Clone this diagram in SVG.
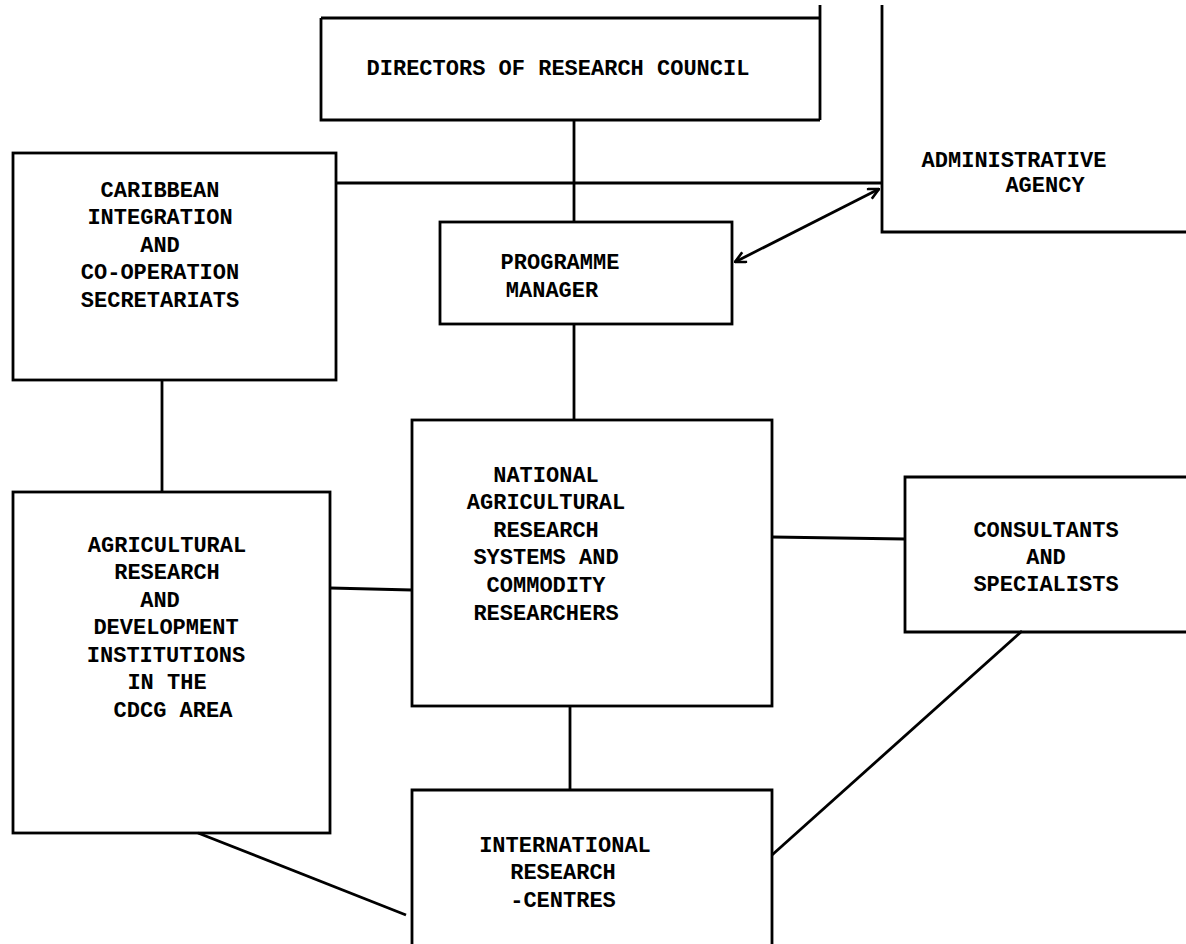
<svg xmlns="http://www.w3.org/2000/svg" width="1186" height="944" viewBox="0 0 1186 944">
<defs>
<style>
.box{fill:none;stroke:#000;stroke-width:2.8}
.ln{fill:none;stroke:#000;stroke-width:2.8}
text{font-family:"Liberation Mono","DejaVu Sans Mono",monospace;font-weight:bold;font-size:22px;fill:#000;text-anchor:middle}
</style>
<marker id="ah" viewBox="0 0 12 12" refX="11" refY="6" markerWidth="13" markerHeight="13" markerUnits="userSpaceOnUse" orient="auto-start-reverse">
<path d="M1,1 L11,6 L1,11" fill="none" stroke="#000" stroke-width="2.4"/>
</marker>
</defs>
<rect width="1186" height="944" fill="#fff"/>
<g id="connectors">
<line class="ln" x1="574" y1="120" x2="574" y2="222"/>
<line class="ln" x1="336" y1="183" x2="882" y2="183"/>
<line class="ln" x1="735" y1="262" x2="879" y2="189" marker-start="url(#ah)" marker-end="url(#ah)"/>
<line class="ln" x1="162" y1="380" x2="162" y2="492"/>
<line class="ln" x1="574" y1="324" x2="574" y2="420"/>
<line class="ln" x1="330" y1="588" x2="412" y2="590"/>
<line class="ln" x1="772" y1="537" x2="905" y2="539"/>
<line class="ln" x1="570" y1="706" x2="570" y2="790"/>
<line class="ln" x1="198" y1="833" x2="406" y2="915"/>
<line class="ln" x1="1022" y1="631" x2="772" y2="855"/>
</g>
<g id="directors">
<path class="box" d="M321,18 H820 M321,18 V120 H820 M820,5 V120"/>
<text x="558" y="75">DIRECTORS OF RESEARCH COUNCIL</text>
</g>
<g id="admin">
<path class="box" d="M882,5 V232 H1186"/>
<text x="1014" y="167">ADMINISTRATIVE</text>
<text x="1045" y="192">AGENCY</text>
</g>
<g id="caribbean">
<rect class="box" x="13" y="153" width="323" height="227"/>
<text x="160" y="197">CARIBBEAN</text>
<text x="160" y="224">INTEGRATION</text>
<text x="160" y="252">AND</text>
<text x="160" y="279">CO-OPERATION</text>
<text x="160" y="307">SECRETARIATS</text>
</g>
<g id="programme">
<rect class="box" x="440" y="222" width="292" height="102"/>
<text x="560" y="269">PROGRAMME</text>
<text x="552" y="297">MANAGER</text>
</g>
<g id="agri">
<rect class="box" x="13" y="492" width="317" height="341"/>
<text x="167" y="552">AGRICULTURAL</text>
<text x="167" y="579">RESEARCH</text>
<text x="160" y="607">AND</text>
<text x="166" y="634">DEVELOPMENT</text>
<text x="166" y="662">INSTITUTIONS</text>
<text x="167" y="689">IN THE</text>
<text x="173" y="717">CDCG AREA</text>
</g>
<g id="national">
<rect class="box" x="412" y="420" width="360" height="286"/>
<text x="546" y="482">NATIONAL</text>
<text x="546" y="509">AGRICULTURAL</text>
<text x="546" y="537">RESEARCH</text>
<text x="546" y="564">SYSTEMS AND</text>
<text x="546" y="592">COMMODITY</text>
<text x="546" y="620">RESEARCHERS</text>
</g>
<g id="consultants">
<path class="box" d="M1186,477 H905 V632 H1186"/>
<text x="1046" y="537">CONSULTANTS</text>
<text x="1046" y="564">AND</text>
<text x="1046" y="591">SPECIALISTS</text>
</g>
<g id="international">
<path class="box" d="M412,944 V790 H772 V944"/>
<text x="565" y="852">INTERNATIONAL</text>
<text x="563" y="879">RESEARCH</text>
<text x="563" y="907">-CENTRES</text>
</g>
</svg>
